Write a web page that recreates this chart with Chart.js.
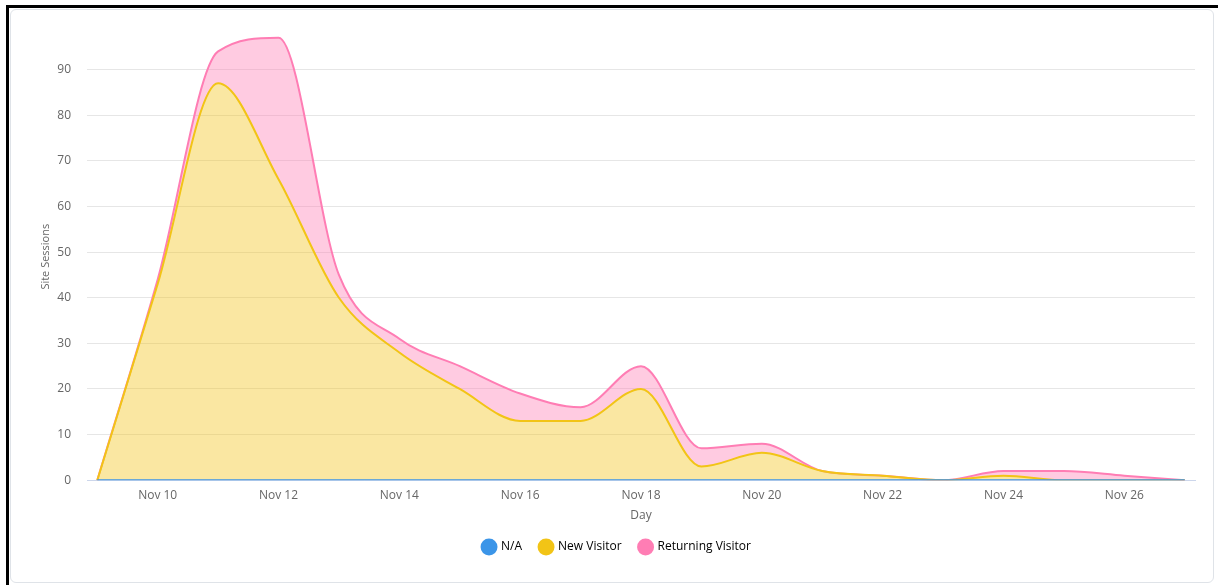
<!DOCTYPE html>
<html>
<head>
<meta charset="utf-8">
<script src="https://cdn.jsdelivr.net/npm/chart.js@4"></script>
<style>
  body { margin: 0; background: #fff; width: 1218px; height: 585px; overflow: hidden; }
  #frame {
    position: absolute; left: 6px; top: 5px; width: 1230px; height: 600px;
    border-left: 3px solid #000; border-top: 3px solid #000;
  }
  #card {
    position: absolute; left: 10px; top: 9px; width: 1202px; height: 572px;
    border: 1px solid #dfe3e8; border-radius: 6px; background: #fff;
  }
  #chartBox { position: absolute; left: 0; top: 0; width: 1202px; height: 572px; }
</style>
</head>
<body>
<div id="frame"></div>
<div id="card"><div id="chartBox"><canvas id="sessionsChart"></canvas></div></div>
<script>
const days = [9, 10, 11, 12, 13, 14, 15, 16, 17, 18, 19, 20, 21, 22, 23, 24, 25, 26, 27];
const dayTicks = [10, 12, 14, 16, 18, 20, 22, 24, 26];
const naValues = [0, 0, 0, 0, 0, 0, 0, 0, 0, 0, 0, 0, 0, 0, 0, 0, 0, 0, 0];
const newVisitor = [0, 43, 87, 66, 40, 28, 20, 13, 13, 20, 3, 6, 2, 1, 0, 1, 0, 0, 0];
const returningVisitor = [0, 1, 7, 31, 5, 3, 5, 6, 3, 5, 4, 2, 0, 0, 0, 1, 2, 1, 0];
const yTicks = [0, 10, 20, 30, 40, 50, 60, 70, 80, 90];

function toPoints(values) {
  return values.map((v, i) => ({ x: days[i], y: v }));
}

const ctx = document.getElementById("sessionsChart").getContext("2d");

const chart = new Chart(ctx, {
  type: "line",
  data: {
    datasets: [
      {
        label: "N/A",
        data: toPoints(naValues),
        borderColor: "#3b95e8",
        backgroundColor: "rgba(59, 149, 232, 0.4)",
        fill: "origin",
      },
      {
        label: "New Visitor",
        data: toPoints(newVisitor),
        borderColor: "#f2c416",
        backgroundColor: "rgba(242, 196, 22, 0.4)",
        fill: "-1",
      },
      {
        label: "Returning Visitor",
        data: toPoints(returningVisitor),
        borderColor: "#ff7db4",
        backgroundColor: "rgba(255, 125, 180, 0.4)",
        fill: "-1",
      },
    ],
  },
  options: {
    responsive: true,
    maintainAspectRatio: false,
    animation: false,
    layout: { padding: { left: 28, right: 18, top: 8, bottom: 19 } },
    elements: {
      point: { radius: 0, hoverRadius: 0 },
      line: { borderWidth: 2, cubicInterpolationMode: "monotone" },
    },
    scales: {
      x: {
        type: "linear",
        min: 8.83,
        max: 27.17,
        afterBuildTicks: (scale) => {
          scale.ticks = dayTicks.map((v) => ({ value: v }));
        },
        grid: { display: false },
        border: { display: true, color: "#ccd6eb", width: 1 },
        ticks: {
          color: "#666",
          font: { family: "Open Sans", size: 12 },
          padding: 0,
          maxRotation: 0,
          callback: (v) => "Nov " + v,
        },
        title: {
          display: true,
          text: "Day",
          color: "#666",
          font: { family: "Open Sans", size: 12 },
          padding: { top: 6, bottom: 0 },
        },
      },
      y: {
        stacked: true,
        min: 0,
        max: 98,
        afterBuildTicks: (scale) => {
          scale.ticks = yTicks.map((v) => ({ value: v }));
        },
        afterFit: (scale) => {
          scale.width = 48;
        },
        grid: { color: "#e6e6e6", drawTicks: false },
        border: { display: false },
        ticks: {
          color: "#666",
          font: { family: "Open Sans", size: 12 },
          padding: 16,
        },
        title: {
          display: true,
          text: "Site Sessions",
          color: "#666",
          font: { family: "Open Sans", size: 11 },
          padding: { top: 0, bottom: 4 },
        },
      },
    },
    plugins: {
      tooltip: { enabled: false },
      legend: {
        position: "bottom",
        labels: {
          usePointStyle: true,
          pointStyle: "circle",
          boxWidth: 12,
          boxHeight: 12,
          padding: 18,
          color: "#666",
          font: { family: "Open Sans", size: 12 },
          generateLabels: (c) =>
            c.data.datasets.map((ds, i) => ({
              text: ds.label,
              fillStyle: ds.borderColor,
              strokeStyle: ds.borderColor,
              lineWidth: 0,
              pointStyle: "circle",
              datasetIndex: i,
            })),
        },
      },
    },
  },
});
</script>
</body>
</html>
